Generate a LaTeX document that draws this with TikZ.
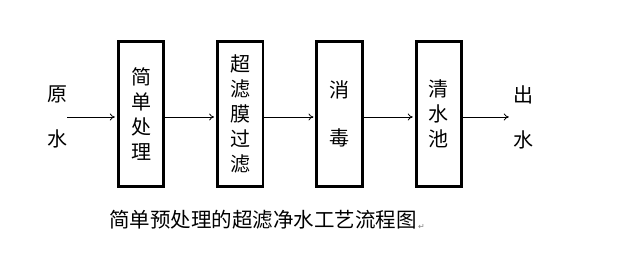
\documentclass[tikz,border=0pt]{standalone}
\usepackage{fontspec}
\newfontfamily\cjk{Noto Sans CJK SC}
\newfontfamily\sym{DejaVu Sans}
\usetikzlibrary{arrows.meta,positioning}

\begin{document}
\begin{tikzpicture}[x=1pt,y=1pt,node distance=51pt,
    unit/.style={draw,line width=2.8pt,minimum width=45.5pt,minimum height=145.5pt,
                 inner sep=0pt,align=center,font=\cjk\fontsize{20}{25}\selectfont},
    side/.style={align=center,inner sep=0pt,font=\cjk\fontsize{20}{45}\selectfont},
    arr/.style={-{To[length=5pt,width=7pt]},line width=0.8pt,shorten >=2pt}]
    \useasboundingbox (0,0) rectangle (624,253);
    \node[unit] (pre) at (141,139) {简\\单\\处\\理};
    \node[unit, right=of pre] (uf) {超\\滤\\膜\\过\\滤};
    \node[unit, right=of uf] (dis) {消\\[23pt]毒};
    \node[unit, right=of dis] (pool) {清\\水\\池};
    \node[side] (raw) at (57,136) {原\\水};
    \node[side] (out) at (523,136) {出\\水};
    \node[font=\cjk\fontsize{20.5}{25}\selectfont, inner sep=0pt] (cap) at (263,33)
      {简单预处理的超滤净水工艺流程图};
    \node[right=1pt of cap.south east, anchor=south west, inner sep=0pt,
      font=\sym\fontsize{8}{8}\selectfont, text=gray] (pm) {↵};
    \draw[arr] (raw.east) -- ([yshift=-3pt]pre.west);
    \draw[arr] ([yshift=-3pt]pre.east) -- ([yshift=-3pt]uf.west);
    \draw[arr] ([yshift=-3pt]uf.east) -- ([yshift=-3pt]dis.west);
    \draw[arr] ([yshift=-3pt]dis.east) -- ([yshift=-3pt]pool.west);
    \draw[arr] ([yshift=-3pt]pool.east) -- ([xshift=-2pt]out.west);
\end{tikzpicture}
\end{document}
